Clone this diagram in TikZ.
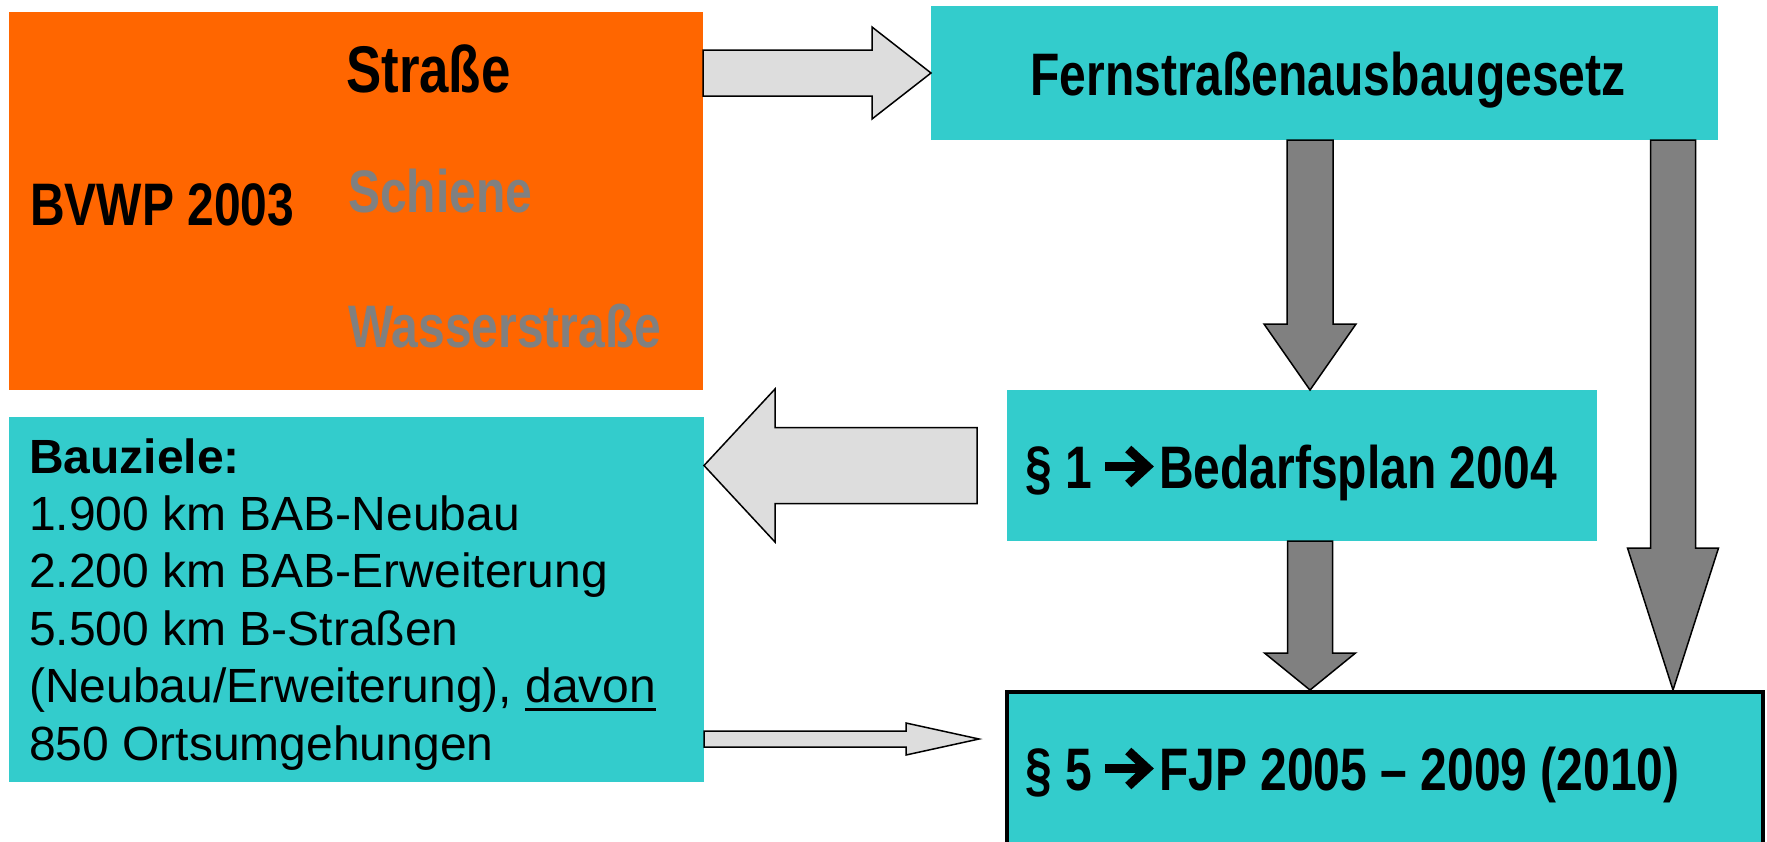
\documentclass[tikz,border=0pt]{standalone}
\usepackage{fontspec}
\setmainfont{Liberation Sans}
\newfontfamily\narrowfont[FakeStretch=0.8]{Liberation Sans}
\usetikzlibrary{calc}

\definecolor{bvorange}{RGB}{255,102,0}
\definecolor{bvcyan}{RGB}{51,204,204}
\definecolor{bvlight}{RGB}{221,221,221}
\definecolor{bvgray}{RGB}{128,128,128}

% #1 Farbe, #2 Anfang, #3 Spitze, #4 halbe Schaftbreite, #5 halbe Kopfbreite, #6 Kopflaenge
\newcommand{\blockarrow}[6]{%
  \coordinate (ba-h) at ($(#3)!#6!(#2)$);
  \filldraw[fill=#1, draw=black, line width=1.5pt, line join=miter]
    ($(#2)!#4!90:(#3)$) -- ($(ba-h)!#4!90:(#3)$) -- ($(ba-h)!#5!90:(#3)$) -- (#3)
    -- ($(ba-h)!#5!-90:(#3)$) -- ($(ba-h)!#4!-90:(#3)$) -- ($(#2)!#4!-90:(#3)$) -- cycle;
}
% fetter Pfeil im Text (wie Wingdings)
\newcommand{\pfeil}{\tikz[baseline=0pt, x=1pt, y=1pt]{%
  \useasboundingbox (0,0) rectangle (54,42);
  \draw[line width=9pt, black] (0,21.5) -- (40,21.5);
  \draw[line width=9pt, black, line join=miter] (23,39) -- (42,21.5) -- (23,4);}}
\newcommand{\unterstr}[1]{\setbox0\hbox{#1}\rlap{\rule[-8.5pt]{\wd0}{3.3pt}}\box0}

\begin{document}
\begin{tikzpicture}[x=1pt, y=-1pt,
  box/.style={rectangle, inner sep=0pt, outer sep=0pt},
  bigtxt/.style={inner sep=0pt, font=\narrowfont\bfseries\fontsize{60}{72}\selectfont}]
  \useasboundingbox (0,0) rectangle (1767,841);
  % Kaesten (Masse in Pixeln des Originals)
  \node[box, fill=bvorange, minimum width=694pt, minimum height=378pt] (bvwp) at (356,201) {};
  \node[box, fill=bvcyan, minimum width=787pt, minimum height=134pt] (fsag) at (1324.5,73) {};
  \node[box, fill=bvcyan, minimum width=590pt, minimum height=151pt] (bedarf) at (1302,465.5) {};
  \node[box, fill=bvcyan, minimum width=695pt, minimum height=365pt] (bauziele) at (356.5,599.5) {};
  \node[rectangle, inner sep=0pt, fill=bvcyan, draw=black, line width=4pt,
        minimum width=756pt, minimum height=158pt] (fjp) at (1385,771) {};

  % Texte
  \node[bigtxt, anchor=base west] (tbvwp) at (30,225) {BVWP 2003};
  \node[bigtxt, anchor=base west, font=\narrowfont\bfseries\fontsize{66}{78}\selectfont]
    (tstr) at (346,92) {Straße};
  \node[bigtxt, anchor=base west, text=bvgray] (tsch) at (348,212) {Schiene};
  \node[bigtxt, anchor=base west, text=bvgray] (twas) at (348,347) {Wasserstraße};
  \node[bigtxt, anchor=base] (tfsag) at (1328,95) {Fernstraßenausbaugesetz};
  \node[bigtxt, anchor=base west] (tbedarf) at (1025,488) {§ 1 \pfeil Bedarfsplan 2004};
  \node[bigtxt, anchor=base west] (tfjp) at (1025,790) {§ 5 \pfeil FJP 2005 – 2009 (2010)};
  % base = letzte Zeile
  \node[anchor=base west, align=left, inner sep=0pt, font=\fontsize{48}{57.4}\selectfont]
    (tziele) at (29,760) {\textbf{Bauziele:}\\1.900 km BAB-Neubau\\2.200 km BAB-Erweiterung\\
      5.500 km B-Straßen\\(Neubau/Erweiterung), \unterstr{davon}\\850 Ortsumgehungen};

  % Pfeile
  \coordinate (a1s) at (bvwp.east |- fsag.west);
  \blockarrow{bvlight}{a1s}{fsag.west}{23pt}{46pt}{59pt}
  \coordinate (a2s) at ($(fsag.south)+(-14.5,0)$);
  \coordinate (a2e) at (a2s |- bedarf.north);
  \blockarrow{bvgray}{a2s}{a2e}{23pt}{46pt}{66pt}
  \coordinate (a3s) at ($(fsag.south east)+(-45,0)$);
  \coordinate (a3e) at (a3s |- fjp.north);
  \blockarrow{bvgray}{a3s}{a3e}{22.5pt}{45.5pt}{142pt}
  \coordinate (a4s) at ($(bedarf.south)+(8,0)$);
  \coordinate (a4e) at (a4s |- fjp.north);
  \blockarrow{bvgray}{a4s}{a4e}{22.5pt}{45.5pt}{37pt}
  \coordinate (a5s) at ($(bedarf.west)+(-30,0)$);
  \coordinate (a5e) at (bauziele.east |- a5s);
  \blockarrow{bvlight}{a5s}{a5e}{38pt}{76.5pt}{71pt}
  \coordinate (a6s) at ($(bauziele.east)+(0,139.5)$);
  \coordinate (a6e) at ($(fjp.west |- a6s)+(-26,0)$);
  \blockarrow{bvlight}{a6s}{a6e}{8pt}{16pt}{73pt}
\end{tikzpicture}
\end{document}
